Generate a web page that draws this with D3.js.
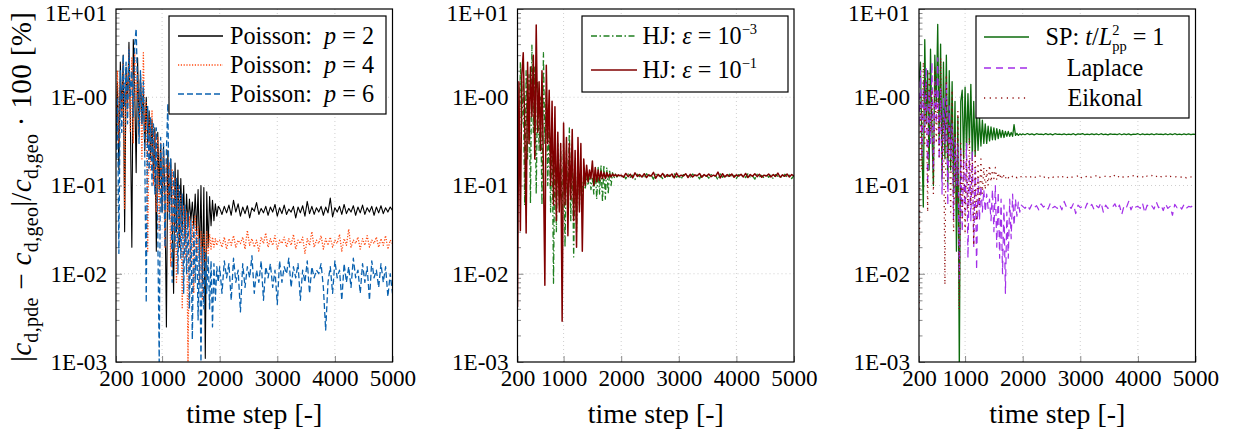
<!DOCTYPE html>
<html>
<head>
<meta charset="utf-8">
<script src="https://cdn.jsdelivr.net/npm/d3@7"></script>
<style>
  body { margin: 0; background: #fff; }
  svg { display: block; }
  .tick text { fill: #000; }
  .tick line { stroke: #8a8a8a; }
</style>
</head>
<body>
<svg id="chart" width="1235" height="438"></svg>
<script>
// time steps shared by every series (coarser after the transient)
const timeSteps = [
  200,225,250,275,300,325,350,375,400,425, 450,475,500,525,550,575,600,625,650,675,
  700,725,750,775,800,825,850,875,900,925, 950,975,1000,1025,1050,1075,1100,1125,1150,1175,
  1200,1225,1250,1275,1300,1325,1350,1375,1400,1425, 1450,1475,1500,1525,1550,1575,1600,1625,1650,1675,
  1700,1725,1750,1775,1800,1825,1850,1875,1900,1925, 1950,1975,
  2000,2040,2080,2120,2160,2200,2240,2280,2320,2360, 2400,2440,2480,2520,2560,2600,2640,2680,2720,2760,
  2800,2840,2880,2920,2960,3000,3040,3080,3120,3160, 3200,3240,3280,3320,3360,3400,3440,3480,3520,3560,
  3600,3640,3680,3720,3760,3800,3840,3880,3920,3960, 4000,4040,4080,4120,4160,4200,4240,4280,4320,4360,
  4400,4440,4480,4520,4560,4600,4640,4680,4720,4760, 4800,4840,4880,4920,4960,5000
];

// left panel: Poisson
const poissonP2 = [
  0.3,1.5,0.15,2.5,0.6,3.0,0.03,2.2,0.8,4.2, 0.5,0.02,4.5,1.2,0.14,2.8,0.4,1.8,0.5,1.2,
  0.25,1.0,0.3,0.7,0.2,0.55,0.12,0.45,0.018,0.4, 0.09,0.3,0.05,0.28,0.07,0.0025,0.25,0.05,0.2,0.04,
  0.006,0.18,0.03,0.15,0.02,0.12,0.03,0.1,0.025,0.08, 0.035,0.07,0.04,0.065,0.035,0.08,0.03,0.09,0.015,0.1,
  0.008,0.095,0.0011,0.085,0.02,0.075,0.035,0.068,0.04,0.062, 0.045,0.058,
  0.055,0.047,0.058,0.049,0.060,0.046,0.068,0.050,0.062,0.045, 0.057,0.048,0.059,0.043,0.056,0.051,0.064,0.047,0.055,0.049,
  0.058,0.046,0.057,0.050,0.061,0.045,0.056,0.048,0.060,0.047, 0.054,0.050,0.058,0.043,0.057,0.049,0.059,0.045,0.066,0.048,
  0.058,0.047,0.056,0.050,0.058,0.046,0.057,0.049,0.072,0.044, 0.056,0.050,0.058,0.047,0.061,0.048,0.055,0.050,0.059,0.046,
  0.057,0.049,0.060,0.047,0.056,0.050,0.058,0.046,0.057,0.049, 0.059,0.048,0.056,0.050,0.057,0.052
];
const poissonP4 = [
  0.5,2.0,0.3,1.5,0.6,2.5,0.055,1.8,0.7,3.5, 0.4,2.8,0.3,3.2,0.9,1.8,0.35,1.5,0.2,3.2,
  0.4,0.9,0.018,0.6,0.15,0.7,0.1,0.4,0.05,0.35, 0.03,0.3,0.06,0.25,0.02,0.2,0.05,0.18,0.012,0.15,
  0.03,0.12,0.008,0.1,0.02,0.08,0.004,0.06,0.015,0.05, 0.001,0.045,0.012,0.04,0.006,0.045,0.015,0.035,0.008,0.03,
  0.005,0.028,0.012,0.03,0.017,0.028,0.019,0.026,0.02,0.025, 0.021,0.024,
  0.024,0.020,0.026,0.019,0.025,0.021,0.027,0.020,0.024,0.022, 0.026,0.019,0.031,0.021,0.025,0.020,0.024,0.018,0.026,0.022,
  0.029,0.020,0.025,0.021,0.027,0.019,0.024,0.022,0.026,0.020, 0.025,0.021,0.028,0.019,0.024,0.022,0.026,0.017,0.025,0.021,
  0.030,0.020,0.024,0.022,0.027,0.019,0.025,0.021,0.026,0.020, 0.024,0.022,0.028,0.018,0.025,0.021,0.032,0.020,0.024,0.022,
  0.026,0.019,0.025,0.021,0.027,0.020,0.024,0.022,0.026,0.020, 0.025,0.021,0.027,0.019,0.024,0.022
];
const poissonP6 = [
  0.2,1.0,0.017,2.0,0.4,3.0,0.8,2.5,0.5,3.5, 1.0,2.0,0.6,4.0,6.0,1.2,0.3,2.0,0.5,1.5,
  0.2,0.0047,0.8,0.15,0.6,0.1,0.5,0.08,0.45,0.03, 0.001,0.35,0.05,0.3,0.02,0.25,0.85,0.04,0.2,0.008,
  0.15,0.02,0.12,0.01,0.1,0.015,0.08,0.006,0.06,0.01, 0.05,0.004,0.04,0.0018,0.035,0.008,0.03,0.003,0.025,0.001,
  0.02,0.004,0.018,0.006,0.016,0.004,0.014,0.0025,0.013,0.005, 0.012,0.008,
  0.012,0.006,0.014,0.009,0.013,0.005,0.015,0.008,0.011,0.0037, 0.013,0.007,0.012,0.009,0.016,0.006,0.011,0.008,0.014,0.005,
  0.012,0.009,0.013,0.007,0.011,0.0045,0.014,0.008,0.012,0.010, 0.015,0.007,0.012,0.009,0.013,0.005,0.011,0.008,0.014,0.006,
  0.012,0.009,0.011,0.010,0.013,0.007,0.0023,0.008,0.012,0.006, 0.014,0.009,0.011,0.005,0.013,0.008,0.012,0.007,0.015,0.009,
  0.011,0.006,0.013,0.008,0.012,0.005,0.014,0.009,0.011,0.007, 0.013,0.008,0.012,0.0055,0.010,0.006
];

// middle panel: HJ
const hjEps3 = [
  1.2,0.1,2.5,0.5,1.5,0.06,2.0,0.2,1.8,0.063, 3.9,0.4,2.2,0.08,1.5,0.25,1.0,0.06,3.2,0.3,
  1.2,0.1,0.6,0.05,0.5,0.0078,0.4,0.03,0.3,0.06, 0.25,0.04,0.3,0.02,0.25,0.05,0.45,0.04,0.3,0.0155,
  0.2,0.03,0.25,0.06,0.15,0.07,0.14,0.09,0.13,0.1, 0.14,0.09,0.12,0.08,0.15,0.07,0.16,0.08,0.17,0.065,
  0.17,0.07,0.16,0.08,0.15,0.1,0.14,0.12,0.135,0.125, 0.13,0.128,
  0.127,0.133,0.119,0.135,0.124,0.131,0.117,0.134,0.126,0.130, 0.121,0.136,0.125,0.132,0.118,0.134,0.127,0.129,0.120,0.135,
  0.126,0.131,0.122,0.136,0.124,0.130,0.118,0.133,0.127,0.129, 0.123,0.135,0.126,0.131,0.119,0.134,0.125,0.130,0.121,0.133,
  0.127,0.129,0.116,0.135,0.124,0.132,0.122,0.134,0.126,0.130, 0.120,0.133,0.127,0.131,0.123,0.136,0.125,0.129,0.118,0.134,
  0.126,0.130,0.121,0.135,0.124,0.131,0.119,0.133,0.127,0.129, 0.122,0.134,0.125,0.131,0.120,0.130
];
const hjEps1 = [
  0.0042,1.5,0.031,1.8,3.2,0.5,0.029,2.5,0.3,2.2, 0.6,3.0,0.2,6.6,0.4,1.5,0.25,2.0,0.15,0.0074,
  2.3,0.3,1.2,0.1,0.9,0.06,0.78,0.04,0.4,0.05, 0.3,0.0029,0.51,0.06,0.35,0.027,0.3,0.07,0.43,0.04,
  0.25,0.02,0.35,0.05,0.3,0.018,0.2,0.1,0.17,0.11, 0.15,0.12,0.19,0.1,0.16,0.11,0.15,0.115,0.145,0.12,
  0.14,0.12,0.14,0.125,0.135,0.125,0.135,0.128,0.133,0.127, 0.132,0.129,
  0.131,0.124,0.137,0.126,0.134,0.122,0.139,0.127,0.133,0.125, 0.136,0.123,0.132,0.128,0.141,0.121,0.134,0.126,0.137,0.124,
  0.133,0.127,0.135,0.122,0.138,0.126,0.131,0.128,0.136,0.123, 0.134,0.125,0.132,0.129,0.137,0.124,0.133,0.127,0.135,0.126,
  0.131,0.128,0.142,0.122,0.136,0.125,0.133,0.127,0.135,0.124, 0.132,0.128,0.134,0.125,0.137,0.123,0.133,0.127,0.136,0.126,
  0.134,0.124,0.131,0.128,0.135,0.125,0.133,0.127,0.138,0.124, 0.132,0.127,0.135,0.125,0.133,0.129
];

// right panel: SP, Laplace, Eikonal
const spUnit = [
  1.5,2.5,0.3,0.057,4.5,0.5,2.0,0.15,3.5,0.4, 0.1,3.0,0.8,6.7,0.3,4.0,0.12,2.5,0.2,3.0,
  0.1,2.0,0.15,1.5,0.08,0.9,0.018,0.6,0.0008,0.9, 1.2,0.2,1.3,0.25,1.1,0.3,1.4,0.2,0.9,0.22,
  0.7,0.25,0.6,0.28,0.55,0.3,0.5,0.3,0.47,0.32, 0.46,0.33,0.45,0.33,0.44,0.34,0.43,0.35,0.42,0.35,
  0.41,0.36,0.41,0.36,0.4,0.36,0.49,0.37,0.39,0.37, 0.385,0.375,
  0.384,0.376,0.388,0.377,0.385,0.374,0.386,0.379,0.383,0.376, 0.387,0.378,0.384,0.375,0.386,0.379,0.382,0.377,0.385,0.376,
  0.383,0.378,0.386,0.375,0.384,0.379,0.387,0.376,0.383,0.378, 0.385,0.377,0.384,0.376,0.386,0.378,0.383,0.375,0.385,0.379,
  0.382,0.377,0.386,0.376,0.384,0.378,0.385,0.375,0.383,0.379, 0.386,0.376,0.384,0.378,0.383,0.377,0.385,0.376,0.384,0.379,
  0.382,0.378,0.385,0.376,0.384,0.377,0.386,0.378,0.383,0.376, 0.385,0.378,0.384,0.377,0.383,0.380
];
const laplace = [
  0.5,2.0,0.2,1.5,0.4,2.2,0.1,1.2,0.3,2.5, 0.15,1.5,0.5,2.8,0.2,1.3,0.08,1.0,0.3,1.5,
  0.06,0.8,0.2,0.5,0.04,0.35,0.1,0.3,0.0087,0.25, 0.03,0.2,0.05,0.3,0.015,0.2,0.04,0.25,0.02,0.15,
  0.011,0.12,0.04,0.1,0.05,0.09,0.05,0.08,0.055,0.07, 0.04,0.09,0.03,0.1,0.02,0.085,0.015,0.07,0.01,0.06,
  0.006,0.05,0.015,0.07,0.025,0.08,0.035,0.07,0.045,0.065, 0.05,0.06,
  0.058,0.055,0.060,0.054,0.061,0.056,0.059,0.053,0.062,0.057, 0.060,0.054,0.063,0.056,0.058,0.055,0.061,0.053,0.066,0.057,
  0.059,0.055,0.062,0.048,0.060,0.056,0.058,0.054,0.063,0.057, 0.061,0.053,0.059,0.056,0.064,0.050,0.060,0.055,0.058,0.057,
  0.062,0.054,0.060,0.047,0.059,0.056,0.066,0.053,0.061,0.057, 0.058,0.055,0.063,0.049,0.060,0.056,0.059,0.054,0.065,0.056,
  0.060,0.052,0.062,0.055,0.058,0.046,0.061,0.056,0.059,0.054, 0.061,0.055,0.058,0.057,0.060,0.056
];
const eikonal = [
  0.004,1.0,0.15,2.5,0.3,1.5,0.05,2.0,0.4,1.2, 0.08,2.2,0.3,1.0,0.2,2.8,0.15,0.6,0.0075,1.8,
  0.2,0.5,0.05,1.2,0.03,0.4,0.06,0.7,0.0039,0.3, 0.04,0.25,0.03,0.2,0.05,0.35,0.06,0.2,0.021,0.25,
  0.04,0.18,0.06,0.2,0.08,0.16,0.09,0.15,0.1,0.17, 0.11,0.15,0.12,0.16,0.115,0.14,0.12,0.135,0.118,0.132,
  0.12,0.13,0.122,0.128,0.123,0.127,0.124,0.128,0.122,0.127, 0.124,0.126,
  0.126,0.122,0.129,0.124,0.127,0.121,0.128,0.125,0.131,0.123, 0.127,0.120,0.128,0.124,0.126,0.122,0.130,0.125,0.127,0.121,
  0.128,0.123,0.126,0.125,0.129,0.120,0.127,0.124,0.128,0.122, 0.126,0.124,0.130,0.121,0.127,0.125,0.128,0.123,0.126,0.122,
  0.132,0.124,0.127,0.121,0.128,0.125,0.126,0.123,0.129,0.122, 0.127,0.124,0.126,0.120,0.128,0.125,0.130,0.123,0.127,0.121,
  0.126,0.124,0.129,0.122,0.127,0.125,0.128,0.123,0.126,0.124, 0.128,0.122,0.127,0.125,0.126,0.124
];

const xTickValues = [200, 1000, 2000, 3000, 4000, 5000];
const yTickValues = [1e-3, 1e-2, 1e-1, 1e0, 1e1];

// whatever face the stack resolves to, size it so the text widths match the picture
const FONT = "\"Liberation Serif\", \"DejaVu Serif\", \"Noto Serif\", FreeSerif, \"Nimbus Roman\", serif";
const ctx = document.createElement("canvas").getContext("2d");
function fitSize(text, target, lo, hi) {
  ctx.font = "40px " + FONT;
  const s = 40 * target / ctx.measureText(text).width;
  return Math.max(lo, Math.min(hi, s));
}
const tickSize = fitSize("1E+01", 62, 18, 25);
const legendSize = fitSize("Poisson: p = 2", 138, 18, 25);
const titleSize = fitSize("time step [-]", 136, 20, 29);
const scriptSize = legendSize * 0.6;

const svg = d3.select("#chart").style("font-family", FONT);
const plotTop = 9, plotBottom = 362, plotWidth = 276.5;

// helpers for legend labels with math bits
function plain(t, s) { t.append("tspan").text(s); }
function ital(t, s) { t.append("tspan").attr("font-style", "italic").text(s); }
function sup(t, s) { t.append("tspan").attr("font-size", scriptSize).attr("dy", -10).text(s); }

const panels = [
  {
    left: 116,
    series: [
      {values: poissonP2, color: "#000000", dash: null, width: 1.1},
      {values: poissonP4, color: "#ff4b12", dash: "1.2,1.6", width: 1.3},
      {values: poissonP6, color: "#0a62b0", dash: "6,3", width: 1.3}
    ],
    legend: {x: 53, y: 16, w: 217, h: 98, rows: [36, 65, 94], sx: [62, 107], tx: 114, anchor: "start",
      labels: [
        t => { plain(t, "Poisson:  "); ital(t, "p"); plain(t, " = 2"); },
        t => { plain(t, "Poisson:  "); ital(t, "p"); plain(t, " = 4"); },
        t => { plain(t, "Poisson:  "); ital(t, "p"); plain(t, " = 6"); }
      ]}
  },
  {
    left: 517.5,
    series: [
      {values: hjEps3, color: "#1f7f1f", dash: "6,2.5,1.5,2.5", width: 1.3},
      {values: hjEps1, color: "#800000", dash: null, width: 1.5}
    ],
    legend: {x: 64.5, y: 16, w: 206, h: 76, rows: [36, 70], sx: [73.5, 119.5], tx: 125, anchor: "start",
      labels: [
        t => { plain(t, "HJ: "); ital(t, "ε"); plain(t, " = 10"); sup(t, "−3"); },
        t => { plain(t, "HJ: "); ital(t, "ε"); plain(t, " = 10"); sup(t, "−1"); }
      ]}
  },
  {
    left: 919,
    series: [
      {values: spUnit, color: "#0d6b0d", dash: null, width: 1.3},
      {values: laplace, color: "#a22ee8", dash: "7,5", width: 1.2},
      {values: eikonal, color: "#900c0c", dash: "1.2,4.5", width: 1.3}
    ],
    legend: {x: 57, y: 16, w: 213, h: 102, rows: [37, 68, 98], sx: [65, 110], tx: 186, anchor: "middle",
      labels: [
        t => { plain(t, "SP: "); ital(t, "t"); plain(t, "/"); ital(t, "L");
               sup(t, "2");
               // subscript sits under the superscript
               ctx.font = scriptSize + "px " + FONT;
               t.append("tspan").attr("font-size", scriptSize)
                 .attr("dx", -ctx.measureText("2").width).attr("dy", 16).text("pp");
               t.append("tspan").attr("dy", -6).text(" = 1"); },
        t => { plain(t, "Laplace"); },
        t => { plain(t, "Eikonal"); }
      ]}
  }
];

const minorTicks = [];
[1e-3, 1e-2, 1e-1, 1e0].forEach(d => { for (let k = 2; k <= 9; k++) minorTicks.push(d * k); });

const fmtY = v => {
  const e = Math.round(Math.log10(v));
  return "1E" + (e > 0 ? "+" : "-") + String(Math.abs(e)).padStart(2, "0");
};

panels.forEach((p, i) => {
  const x = d3.scaleLinear().domain([200, 5000]).range([p.left, p.left + plotWidth]);
  const y = d3.scaleLog().domain([1e-3, 1e1]).range([plotBottom, plotTop]);
  const g = svg.append("g");

  g.append("clipPath").attr("id", "clip" + i)
    .append("rect")
    .attr("x", p.left).attr("y", plotTop)
    .attr("width", plotWidth).attr("height", plotBottom - plotTop);

  // dotted grid
  g.selectAll("line.gx").data(xTickValues.slice(1, -1)).enter().append("line")
    .attr("x1", d => x(d)).attr("x2", d => x(d))
    .attr("y1", plotTop).attr("y2", plotBottom)
    .attr("stroke", "#c9c9c9").attr("stroke-width", 0.9).attr("stroke-dasharray", "1,3");
  g.selectAll("line.gy").data(yTickValues.slice(1, -1)).enter().append("line")
    .attr("x1", p.left).attr("x2", p.left + plotWidth)
    .attr("y1", d => y(d)).attr("y2", d => y(d))
    .attr("stroke", "#c9c9c9").attr("stroke-width", 0.9).attr("stroke-dasharray", "1,3");

  // axes, ticks pointing inside
  const ax = [];
  ax.push(g.append("g")
    .attr("transform", "translate(0," + plotBottom + ")")
    .call(d3.axisBottom(x).tickValues(xTickValues).tickSizeInner(-6).tickSizeOuter(0).tickPadding(8).tickFormat(d3.format("d"))));
  ax.push(g.append("g")
    .attr("transform", "translate(" + p.left + ",0)")
    .call(d3.axisLeft(y).tickValues(minorTicks).tickSizeInner(-3.5).tickSizeOuter(0).tickFormat("")));
  ax.push(g.append("g")
    .attr("transform", "translate(" + p.left + ",0)")
    .call(d3.axisLeft(y).tickValues(yTickValues).tickSizeInner(-6).tickSizeOuter(0).tickPadding(9).tickFormat(fmtY)));
  ax.forEach(a => {
    a.select(".domain").remove();
    a.attr("font-family", null).attr("font-size", tickSize);
  });
  // keep the top label inside the picture
  ax[2].selectAll(".tick text").filter(d => d === 1e1).attr("dy", "0.5em");

  // series
  const line = d3.line()
    .x((d, j) => x(timeSteps[j]))
    .y(d => y(d));
  p.series.forEach(s => {
    g.append("path")
      .datum(s.values)
      .attr("clip-path", "url(#clip" + i + ")")
      .attr("fill", "none")
      .attr("stroke", s.color)
      .attr("stroke-width", s.width)
      .attr("stroke-dasharray", s.dash)
      .attr("stroke-linejoin", "round")
      .attr("d", line);
  });

  // frame
  g.append("rect")
    .attr("x", p.left).attr("y", plotTop)
    .attr("width", plotWidth).attr("height", plotBottom - plotTop)
    .attr("fill", "none").attr("stroke", "#000").attr("stroke-width", 1.2);

  // legend
  const L = p.legend;
  const lg = g.append("g").attr("transform", "translate(" + p.left + ",0)");
  lg.append("rect")
    .attr("x", L.x).attr("y", L.y).attr("width", L.w).attr("height", L.h)
    .attr("fill", "#fff").attr("stroke", "#000").attr("stroke-width", 1.2);
  p.series.forEach((s, k) => {
    lg.append("line")
      .attr("x1", L.sx[0]).attr("x2", L.sx[1])
      .attr("y1", L.rows[k]).attr("y2", L.rows[k])
      .attr("stroke", s.color).attr("stroke-width", s.width + 0.2)
      .attr("stroke-dasharray", s.dash);
    const t = lg.append("text")
      .attr("x", L.tx).attr("y", L.rows[k] + legendSize * 0.33)
      .attr("text-anchor", L.anchor)
      .attr("font-size", legendSize)
      .style("white-space", "pre");
    L.labels[k](t);
  });

  // x title
  svg.append("text")
    .attr("x", p.left + plotWidth / 2).attr("y", 423)
    .attr("text-anchor", "middle")
    .attr("font-size", titleSize)
    .text("time step [-]");
});

// y title, only on the left panel
const yt = svg.append("text")
  .attr("transform", "translate(31,187) rotate(-90)")
  .attr("text-anchor", "middle")
  .attr("font-size", titleSize * 1.05)
  .style("white-space", "pre");
function sub(s) { yt.append("tspan").attr("font-size", titleSize * 0.72).attr("dy", 7).text(s); }
function back(s) { yt.append("tspan").attr("dy", -7).text(s); }
yt.append("tspan").text("|");
yt.append("tspan").attr("font-style", "italic").text("c");
sub("d,pde");
back(" − ");
yt.append("tspan").attr("font-style", "italic").text("c");
sub("d,geo");
back("|/");
yt.append("tspan").attr("font-style", "italic").text("c");
sub("d,geo");
back(" · 100 [%]");
yt.attr("textLength", 350).attr("lengthAdjust", "spacing");
</script>
</body>
</html>
